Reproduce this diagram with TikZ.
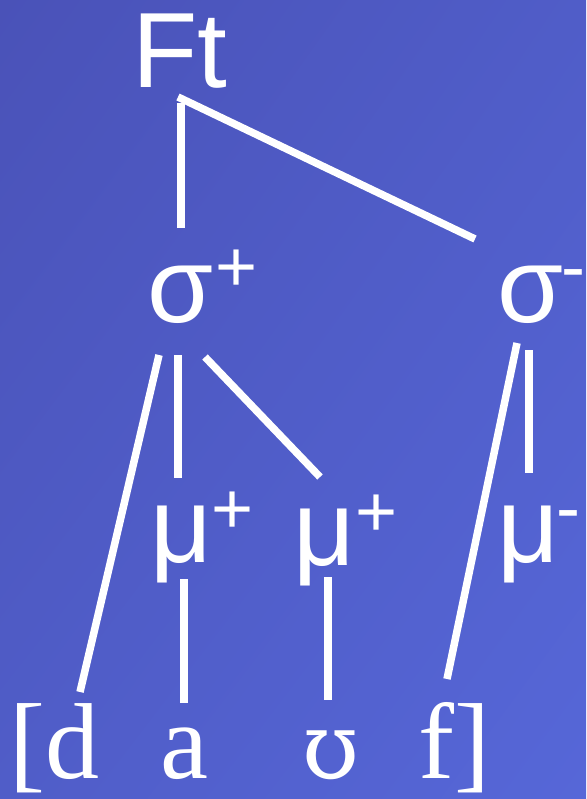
\documentclass[tikz,border=0pt]{standalone}
\usepackage{fontspec}
\usetikzlibrary{shadings}
\setmainfont{Liberation Serif}
\newfontfamily\arialfont{Liberation Sans}
\newfontfamily\ipafont{DejaVu Serif}
\definecolor{bgTL}{HTML}{4A52B8}
\definecolor{bgMid}{HTML}{505DC8}
\definecolor{bgBR}{HTML}{5667D8}
\tikzset{
  lbl/.style={text=white, inner sep=0pt, outer sep=0pt, anchor=base west,
    font=\arialfont\fontsize{107}{107}\selectfont},
  suplbl/.style={text=white, inner sep=0pt, outer sep=0pt, anchor=base west,
    font=\arialfont\fontsize{72}{72}\selectfont},
  seg/.style={text=white, inner sep=0pt, outer sep=0pt, anchor=base west,
    font=\fontsize{108}{108}\selectfont},
  branch/.style={draw=white, line width=7.5pt, line cap=butt}
}
\begin{document}
\begin{tikzpicture}[x=1pt,y=-1pt]
\useasboundingbox (0,0) rectangle (586,799);
\shade[upper left=bgTL, upper right=bgMid, lower left=bgMid, lower right=bgBR] (0,0) rectangle (586,799);
% tiers
\node[lbl] (Ft) at (132,88) {Ft};
\node[lbl] (sp) at (147,322) {σ};
\node[suplbl] (spS) at (215,291) {+};
\node[lbl] (sm) at (497,322) {σ};
\node[suplbl] (smS) at (561,291) {-};
\node[lbl] (mu1) at (150,562) {μ};
\node[suplbl] (mu1S) at (211,533) {+};
\node[lbl] (mu2) at (293,565) {μ};
\node[suplbl] (mu2S) at (355,536) {+};
\node[lbl] (mu3) at (497,562) {μ};
\node[suplbl] (mu3S) at (556,532) {-};
\node[seg] (lb) at (9.5,778) {[};
\node[seg] (d) at (45.5,778) {d};
\node[seg] (a) at (160,778) {a};
\node[seg, font=\ipafont\fontsize{92}{92}\selectfont] (u) at (302,778) {ʊ};
\node[seg] (f) at (418,778) {f};
\node[seg] (rb) at (454,778) {]};
% association lines
\draw[branch] ([shift={(49,15)}]Ft.base west) -- ([shift={(34,-94)}]sp.base west);
\draw[branch] ([shift={(46,9)}]Ft.base west) -- ([shift={(-22,-83)}]sm.base west);
\draw[branch] ([shift={(12,33)}]sp.base west) -- ([shift={(34.5,-86)}]d.base west);
\draw[branch] ([shift={(31,33)}]sp.base west) -- ([shift={(28,-84)}]mu1.base west);
\draw[branch] ([shift={(58,35)}]sp.base west) -- ([shift={(27,-88)}]mu2.base west);
\draw[branch] ([shift={(20,21)}]sm.base west) -- ([shift={(29,-99)}]f.base west);
\draw[branch] ([shift={(32,28)}]sm.base west) -- ([shift={(32,-89)}]mu3.base west);
\draw[branch] ([shift={(34,17)}]mu1.base west) -- ([shift={(24,-75)}]a.base west);
\draw[branch] ([shift={(35,12)}]mu2.base west) -- ([shift={(26,-78)}]u.base west);
\end{tikzpicture}
\end{document}
